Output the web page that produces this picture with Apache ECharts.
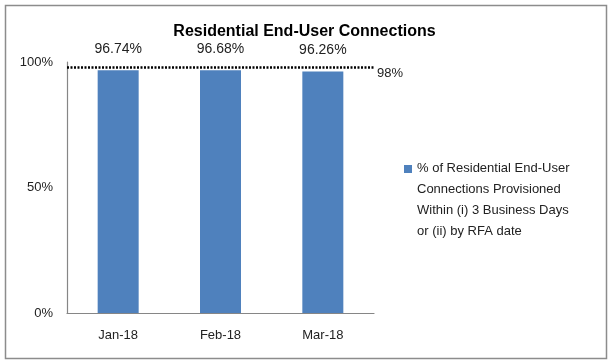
<!DOCTYPE html>
<html><head><meta charset="utf-8">
<script src="https://cdn.jsdelivr.net/npm/echarts@6/dist/echarts.min.js"></script>
<style>html,body{margin:0;padding:0;background:#fff}#c{width:609px;height:361px}</style>
</head><body><div id="c"></div>
<script>
const categories = ['Jan-18', 'Feb-18', 'Mar-18'];
const values = [96.74, 96.68, 96.26];
const target = 98;
const yTicks = [0, 50, 100];
const seriesName = '% of Residential End-User\nConnections Provisioned\nWithin (i) 3 Business Days\nor (ii) by RFA date';

const chart = echarts.init(document.getElementById('c'));
const font = 'Liberation Sans';
chart.setOption({
  animation: false,
  textStyle: { fontFamily: font },
  title: {
    text: 'Residential End-User Connections',
    left: 'center', top: 19,
    textStyle: { fontFamily: font, fontSize: 16, fontWeight: 'bold', color: '#000' }
  },
  graphic: [{
    type: 'rect', left: 3, top: 3,
    shape: { width: 601, height: 353 },
    style: { fill: 'none', stroke: '#8c8c8c', lineWidth: 1.5 }
  }],
  legend: {
    left: 399, top: 153, orient: 'vertical',
    itemWidth: 8, itemHeight: 84, itemGap: 0,
    icon: 'path://M0,0H0.01V0.01H0Z M0,7H8V15H0Z M0,84H0.01V84.01H0Z',
    textStyle: { fontFamily: font, fontSize: 13, color: '#222', lineHeight: 21 },
    data: [seriesName]
  },
  grid: { left: 67, right: 235, top: 62, bottom: 48 },
  xAxis: {
    type: 'category', data: categories,
    axisLine: { lineStyle: { color: '#868686', width: 1.2 } },
    axisTick: { show: false },
    axisLabel: { color: '#222', fontSize: 13, margin: 16 }
  },
  yAxis: {
    type: 'value', min: 0, max: 100, interval: 50,
    axisLine: { show: true, lineStyle: { color: '#868686', width: 1.2 } },
    axisTick: { show: false },
    splitLine: { show: false },
    axisLabel: { color: '#222', fontSize: 13, margin: 14, formatter: v => yTicks.includes(v) ? v + '%' : '' }
  },
  series: [{
    name: seriesName, type: 'bar', data: values,
    barWidth: 41,
    itemStyle: { color: '#4F81BD' },
    label: { show: true, position: 'top', distance: 14, color: '#222', fontSize: 14, formatter: p => p.value.toFixed(2) + '%' },
    markLine: {
      symbol: 'none', silent: true,
      lineStyle: { type: [2, 1.5], color: '#000', width: 2.5 },
      label: { show: true, position: 'end', formatter: target + '%', color: '#222', fontSize: 13, distance: 3, offset: [0, 6] },
      data: [{ yAxis: target }]
    }
  }]
});
</script></body></html>
